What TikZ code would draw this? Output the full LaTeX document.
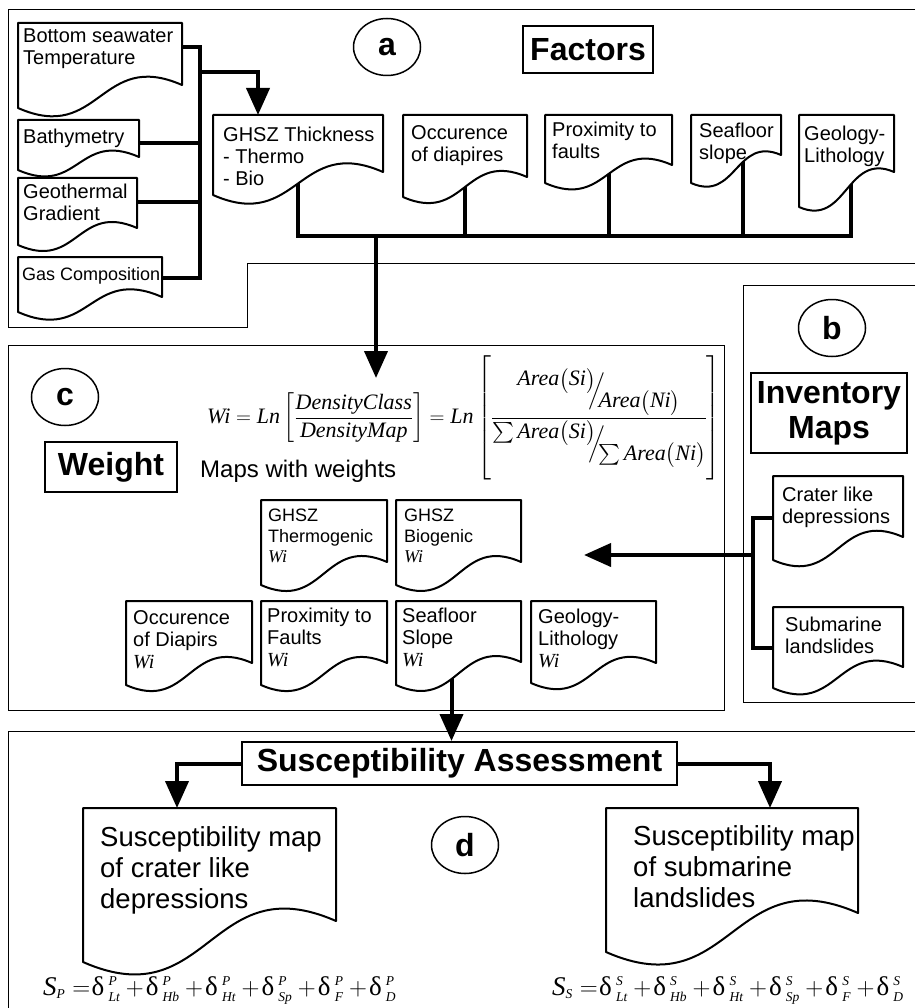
\documentclass[tikz,border=0pt]{standalone}
\usepackage{amsmath}
\usepackage{fontspec}
\setmainfont{Liberation Sans}
\newfontfamily\tms{Liberation Serif}
\usetikzlibrary{arrows.meta,shapes.geometric,calc,backgrounds}
\pgfdeclarelayer{bgl}\pgfdeclarelayer{docs}
\pgfsetlayers{bgl,docs,main}
\newcommand\ti[1]{\text{\tms\itshape #1}}
\newcommand\dlt{\text{\tms δ}}
\newcommand\wi{{\tms\itshape Wi}}
\newcommand\slfrac[2]{\raisebox{0.5em}{$#1$}\mkern-6mu\Big/\mkern-6mu\raisebox{-0.5em}{$#2$}}
\newcommand\dd[2]{\dlt\mkern3mu{}^{\scriptscriptstyle\ti{#1}}_{\scriptscriptstyle\ti{#2}}}
\newcommand\pl{\mkern4mu{+}\mkern1.5mu}
\tikzset{
 conn/.style={line width=4pt},
 arr/.style={-{Triangle[length=27pt,width=23pt]}},
 frame/.style={line width=1pt},
 docline/.style={draw, line width=2pt, fill=white, line join=round},
 docbox/.style={inner sep=0pt, outer sep=0pt},
 doctext/.style={inner sep=0pt, align=left, font=\fontsize{20}{22}\selectfont},
 lbl/.style={ellipse, draw, line width=1.5pt, minimum width=67pt, minimum height=57pt, inner sep=0pt, font=\fontsize{32}{36}\selectfont\bfseries},
 title/.style={draw, line width=2pt, inner sep=0pt, font=\fontsize{32}{35}\selectfont\bfseries, align=center},
 sform/.style={anchor=base west, inner sep=0pt, font=\fontsize{27}{30}\selectfont},
}
% name, x, y, w, left height, right height, text offset, style, text
\newcommand\docnode[9]{%
 \begin{pgfonlayer}{docs}
 \path[docline] (#2,#3) -- (#2+#4,#3) -- (#2+#4,#3+#6) .. controls (#2+0.5*#4,#3+#6-0.22*#4) and (#2+0.5*#4,#3+#5+0.22*#4) .. (#2,#3+#5) -- cycle;
 \end{pgfonlayer}
 \node[docbox, minimum width=#4pt, minimum height=#5pt, anchor=north west] (#1) at (#2,#3) {};
 \node[doctext, anchor=north west, #8] (#1t) at ($(#2,#3)+(#7)$) {#9};
}
\begin{document}
\begin{tikzpicture}[x=1pt,y=-1pt]
\useasboundingbox (0,0) rectangle (915,1008);

% ---------- region a
\docnode{bsw}{18}{23}{164}{85}{62}{5,6}{}{Bottom seawater\\Temperature}
\docnode{bathy}{18}{120}{121}{50}{37}{5,9}{}{Bathymetry}
\docnode{geo}{18}{178}{119}{67}{50}{5,6}{}{Geothermal\\Gradient}
\docnode{gas}{18}{257}{144}{55}{40}{4,10}{font=\fontsize{18}{21}\selectfont}{Gas Composition}
\docnode{ghsz}{213}{115}{170}{80}{57}{10,12}{}{GHSZ Thickness\\- Thermo\\- Bio}
\docnode{occ}{403}{115}{124}{82}{62}{8,10}{}{Occurence\\of diapires}
\docnode{prox}{545}{115}{127}{68}{50}{7,7}{}{Proximity to\\faults}
\docnode{sfl}{691}{115}{90}{68}{40}{8,8}{}{Seafloor\\slope}
\docnode{geol}{799}{115}{95}{92}{57}{5,11}{}{Geology-\\Lithology}

\node[lbl] (la) at (387,47) {a};
\node[title, minimum width=130pt, minimum height=47pt] (fac) at (588,49.5) {Factors};

% ---------- region c
\node[lbl] (lc) at (65,397) {c};
\node[title, minimum width=132pt, minimum height=50pt] (wgt) at (111,467) {Weight};
\node[anchor=base west, inner sep=0pt, font=\fontsize{24}{28}\selectfont] (mww) at (200,477) {Maps with weights};
\node[anchor=west, inner sep=0pt, font=\fontsize{22}{26}\selectfont] (wf) at (207,418)
 {\delimitershortfall=0pt\delimiterfactor=1000$\ti{Wi} = \ti{Ln}\left[\dfrac{\ti{DensityClass}}{\ti{DensityMap}}\right] = \ti{Ln}\left[\vrule height 64pt depth 54pt width 0pt\dfrac{\slfrac{\ti{Area}\big(\ti{Si}\big)}{\ti{Area}\big(\ti{Ni}\big)}}{\slfrac{\sum\ti{Area}\big(\ti{Si}\big)}{\sum\ti{Area}\big(\ti{Ni}\big)}}\right]$};

\docnode{ghszT}{261}{500}{126}{85}{62}{7,9}{font=\fontsize{18}{20.5}\selectfont}{GHSZ\\Thermogenic\\\wi}
\docnode{ghszB}{396}{500}{125}{85}{62}{8,9}{font=\fontsize{18}{20.5}\selectfont}{GHSZ\\Biogenic\\\wi}
\docnode{occW}{126}{601}{126}{84}{62}{7,9}{}{Occurence\\of Diapirs\\\wi}
\docnode{proxW}{261}{601}{126}{84}{62}{6,7}{}{Proximity to\\Faults\\\wi}
\docnode{sfsW}{396}{601}{125}{84}{61}{6,7}{}{Seafloor\\Slope\\\wi}
\docnode{geolW}{531}{601}{125}{82}{62}{7,8}{}{Geology-\\Lithology\\\wi}

% ---------- region b
\node[lbl] (lb) at (832,328) {b};
\node[title, minimum width=156pt, minimum height=80pt] (inv) at (829,413) {Inventory\\Maps};
\docnode{crater}{773}{476}{130}{84}{61}{9,11}{}{Crater like\\depressions}
\docnode{subm}{773}{607}{130}{81}{60}{12,10}{}{Submarine\\landslides}

% ---------- region d
\node[title, minimum width=435pt, minimum height=43pt] (sa) at (459.5,763.5) {Susceptibility Assessment};
\node[lbl] (ld) at (465,845) {d};
\docnode{sml}{83}{808}{253}{154}{113}{17,18}{font=\fontsize{27.5}{31}\selectfont}{Susceptibility map\\of crater like\\depressions}
\docnode{smr}{606}{808}{252}{144}{105}{27,17}{font=\fontsize{27.5}{31}\selectfont}{Susceptibility map\\of submarine\\landslides}

\node[sform] (spf) at (43,995)
 {$\ti{S}_{\scriptscriptstyle\ti{P}}\mkern5mu{=}\mkern1mu\dd{P}{Lt}\pl\dd{P}{Hb}\pl\dd{P}{Ht}\pl\dd{P}{Sp}\pl\dd{P}{F}\pl\dd{P}{D}$};
\node[sform] (ssf) at (552,995)
 {$\ti{S}_{\scriptscriptstyle\ti{S}}\mkern5mu{=}\mkern1mu\dd{S}{Lt}\pl\dd{S}{Hb}\pl\dd{S}{Ht}\pl\dd{S}{Sp}\pl\dd{S}{F}\pl\dd{S}{D}$};

% ---------- frames and connectors
\begin{pgfonlayer}{bgl}
\draw[frame] (915,10) -- (8,10) -- (8,327) -- (247,327) -- (247,263) -- (915,263);
\draw[frame] (915,285) -- (743,285) -- (743,702) -- (915,702);
\draw[frame] (8,345) rectangle (724,710);
\draw[frame] (915,731) -- (8,731) -- (8,1008);

\coordinate (lbT) at (200,47);
\coordinate (lbJ) at (200,72);
\coordinate (lbB) at (200,278);
\coordinate (bswO) at ($(bsw.north east)+(0,24)$);
\coordinate (bathyO) at ($(bathy.north east)+(0,23)$);
\coordinate (geoO) at ($(geo.north east)+(0,24)$);
\coordinate (ghszIn) at ($(ghsz.north west)+(45,0)$);
\draw[conn] (bswO) -- (lbT) -- (lbB) -- (gas.east |- lbB);
\draw[conn] (bathyO) -- (bathyO -| lbT);
\draw[conn] (geoO) -- (geoO -| lbT);
\draw[conn,arr] (lbJ) -| (ghszIn);

\coordinate (fb) at (376,236);
\coordinate (geolX) at ($(geol.center)+(4,0)$);
\coordinate (sflX) at ($(sfl.center)+(7,0)$);
\draw[conn] (ghsz.center) -- (ghsz.center |- fb) -- (geolX |- fb) -- (geolX);
\draw[conn] (occ.center) -- (occ.center |- fb);
\draw[conn] (prox.center) -- (prox.center |- fb);
\draw[conn] (sflX) -- (sflX |- fb);
\coordinate (cIn) at (376,378);
\draw[conn,arr] (fb) -- (cIn);

\coordinate (ib) at (753,555);
\coordinate (wIn) at (584,555);
\draw[conn] (crater.west) -| (ib) |- (subm.west);
\draw[conn,arr] (ib) -- (wIn);

\coordinate (sfsX) at ($(sfsW.center)+(-7,0)$);
\draw[conn,arr] (sfsX) -- (sfsX |- sa.north);
\coordinate (smlIn) at ($(sml.north west)+(94,0)$);
\coordinate (smrIn) at ($(smr.north west)+(164,0)$);
\draw[conn,arr] (sa.west) -| (smlIn);
\draw[conn,arr] (sa.east) -| (smrIn);
\end{pgfonlayer}
\end{tikzpicture}
\end{document}
